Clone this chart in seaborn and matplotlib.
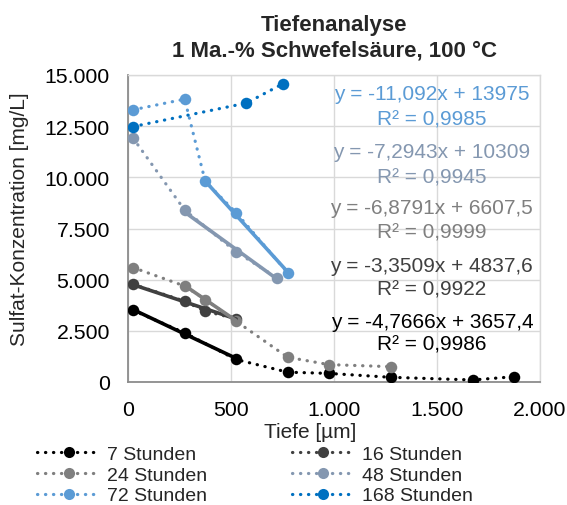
import numpy as np
import pandas as pd
import matplotlib
matplotlib.use("Agg")
import matplotlib.pyplot as plt
from matplotlib.lines import Line2D
from matplotlib.ticker import FuncFormatter, MultipleLocator
import seaborn as sns

# Messreihen: Tiefe [µm] und Sulfat-Konzentration [mg/L]
series_labels = ["7 Stunden", "16 Stunden", "24 Stunden", "48 Stunden", "72 Stunden", "168 Stunden"]
series_colors = ["#000000", "#404040", "#7F7F7F", "#8497B0", "#5B9BD5", "#0070C0"]

depth_7h = [25, 275, 525, 775, 975, 1275, 1675, 1875]
conc_7h = [3500, 2400, 1100, 480, 420, 230, 100, 260]
depth_16h = [25, 275, 375, 525]
conc_16h = [4770, 3950, 3460, 3090]
depth_24h = [25, 275, 375, 525, 775, 975, 1275]
conc_24h = [5590, 4690, 4030, 2970, 1210, 850, 750]
depth_48h = [25, 275, 525, 725]
conc_48h = [11910, 8400, 6360, 5080]
depth_72h = [25, 275, 375, 525, 775]
conc_72h = [13300, 13820, 9800, 8270, 5340]
depth_168h = [25, 575, 750]
conc_168h = [12480, 13630, 14560]

depths = [depth_7h, depth_16h, depth_24h, depth_48h, depth_72h, depth_168h]
concs = [conc_7h, conc_16h, conc_24h, conc_48h, conc_72h, conc_168h]

# Lineare Trendlinien (gilt für die ersten fünf Reihen)
trend_slope = [-4.7666, -3.3509, -6.8791, -7.2943, -11.092]
trend_icpt = [3657.4, 4837.6, 6607.5, 10309, 13975]
trend_r2 = [0.9986, 0.9922, 0.9999, 0.9945, 0.9985]
trend_from = [25, 25, 275, 275, 375]
trend_to = [525, 525, 525, 725, 775]

# Lage der Gleichungen im Diagramm (Datenkoordinaten)
eq_x = 1475
eq_y = [2980, 5668, 8502, 11238, 14072]
r2_y = [1857, 4544, 7329, 10016, 12850]

sns.set_style("white")
plt.rcParams["font.family"] = ["Liberation Sans", "DejaVu Sans"]

W, H = 567, 506
fig = plt.figure(figsize=(W / 100, H / 100), dpi=100)
ax = fig.add_axes([128 / W, 1 - 383 / H, 412 / W, 307 / H])

palette = dict(zip(series_labels, series_colors))
dotted = (0, (0.1, 2.4))

df = pd.DataFrame({
    "Tiefe": np.concatenate([np.asarray(d, float) for d in depths]),
    "Konz": np.concatenate([np.asarray(c, float) for c in concs]),
    "Serie": np.concatenate([[lab] * len(d) for lab, d in zip(series_labels, depths)]),
})

sns.lineplot(data=df, x="Tiefe", y="Konz", hue="Serie", hue_order=series_labels,
             palette=palette, estimator=None, sort=False, legend=False, ax=ax,
             marker="o", markersize=8.3, markeredgewidth=0, linestyle=dotted,
             linewidth=2.3, dash_capstyle="round", zorder=3)

# Trendlinien aus den angegebenen Gleichungen
rows = []
for lab, a, b, x0, x1 in zip(series_labels, trend_slope, trend_icpt, trend_from, trend_to):
    for xv in (x0, x1):
        rows.append({"Tiefe": xv, "Konz": a * xv + b, "Serie": lab})
trend_df = pd.DataFrame(rows)
sns.lineplot(data=trend_df, x="Tiefe", y="Konz", hue="Serie", hue_order=series_labels[:5],
             palette=palette, estimator=None, sort=False, legend=False, ax=ax,
             linewidth=2.6, zorder=4)


def de_num(v):
    return f"{v:g}".replace(".", ",")


for i, (a, b, r2) in enumerate(zip(trend_slope, trend_icpt, trend_r2)):
    col = series_colors[i]
    ax.text(eq_x, eq_y[i], f"y = {de_num(a)}x + {de_num(b)}", ha="center", va="center",
            fontsize=15, color=col, zorder=5)
    ax.text(eq_x, r2_y[i], f"R² = {r2:.4f}".replace(".", ","), ha="center", va="center",
            fontsize=15, color=col, zorder=5)

ax.set_xlim(0, 2000)
ax.set_ylim(0, 15000)
ax.xaxis.set_major_locator(MultipleLocator(500))
ax.yaxis.set_major_locator(MultipleLocator(2500))
thousands = FuncFormatter(lambda v, p: f"{int(round(v)):,}".replace(",", "."))
ax.xaxis.set_major_formatter(thousands)
ax.yaxis.set_major_formatter(thousands)
ax.tick_params(axis="both", length=0, pad=13, labelsize=15.3, labelcolor="#000000")

ax.grid(True, color="#D9D9D9", linewidth=1.0)
ax.set_axisbelow(True)
for side in ("top", "right"):
    ax.spines[side].set_color("#D9D9D9")
    ax.spines[side].set_linewidth(1.0)
for side in ("left", "bottom"):
    ax.spines[side].set_color("#8C8C8C")
    ax.spines[side].set_linewidth(1.3)

ax.set_xlabel("Tiefe [µm]", fontsize=15, va="center", ha="center")
ax.xaxis.set_label_coords((310 - 128) / 412, -(433 - 383) / 307)
ax.set_ylabel("Sulfat-Konzentration [mg/L]", fontsize=15, va="center", ha="center")
ax.yaxis.set_label_coords((20 - 128) / 412, (383 - 219) / 307)

fig.text(334 / W, 1 - 31 / H, "Tiefenanalyse", ha="center", va="baseline",
         fontsize=16, fontweight="bold")
fig.text(334 / W, 1 - 57 / H, "1 Ma.-% Schwefelsäure, 100 °C", ha="center", va="baseline",
         fontsize=16, fontweight="bold")

handles = [Line2D([], [], color=c, linestyle=dotted, linewidth=2.3, dash_capstyle="round",
                  marker="o", markersize=8, markeredgewidth=0)
           for c in series_colors]
order = [0, 2, 4, 1, 3, 5]
fig.legend([handles[i] for i in order], [series_labels[i] for i in order],
           ncol=2, loc="upper left", bbox_to_anchor=(37 / W, 1 - 446 / H),
           frameon=False, fontsize=14, handlelength=3.25, handletextpad=0.36,
           columnspacing=4.34, labelspacing=0.17, borderpad=0, borderaxespad=0)

fig.savefig("out.png", dpi=100)
